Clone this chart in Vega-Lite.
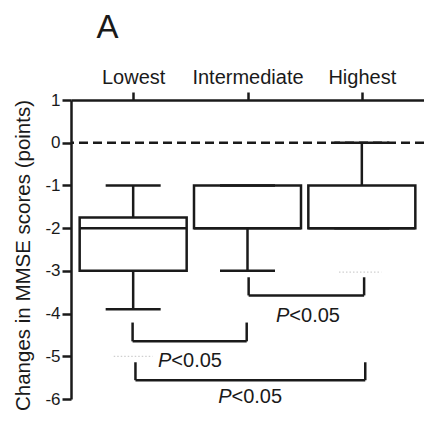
{
  "$schema": "https://vega.github.io/schema/vega-lite/v6.json",
  "width": 353,
  "height": 299,
  "autosize": {"type": "none"},
  "padding": {"left": 71, "top": 100, "right": 0, "bottom": 23},
  "background": "white",
  "config": {
    "view": {"stroke": null},
    "font": "Liberation Sans",
    "axis": {"grid": false, "domainColor": "#1a1a1a", "domainWidth": 2.5, "tickColor": "#1a1a1a", "tickWidth": 2.5, "labelFont": "Liberation Sans", "labelColor": "#1a1a1a", "titleFont": "Liberation Sans", "titleColor": "#1a1a1a", "titleFontWeight": "normal"},
    "axisTop": {"tickSize": 8, "labelFontSize": 20, "labelPadding": 9, "labelBaseline": "alphabetic"},
    "axisLeft": {"tickSize": 9, "labelFontSize": 17, "labelPadding": 2, "titleFontSize": 20.5},
    "axisRight": {"disable": true}
  },
  "datasets": {
    "boxes": [
      {"group": "Lowest", "pos": 1, "lo": -3.9, "q1": -3, "med": -2, "q3": -1.75, "hi": -1},
      {"group": "Intermediate", "pos": 2, "lo": -3, "q1": -2, "med": -2, "q3": -1, "hi": -1},
      {"group": "Highest", "pos": 3, "lo": -2, "q1": -2, "med": -2, "q3": -1, "hi": 0}
    ],
    "reference": [
      {"ref": 0}
    ],
    "brackets": [
      {"a": 2.01, "b": 3.02, "top": -3.15, "bar": -3.575, "split": 2.366, "labely": -4.19, "p": "P", "rest": "<0.05"},
      {"a": 0.995, "b": 1.993, "top": -4.21, "bar": -4.65, "split": 1.334, "labely": -5.24, "p": "P", "rest": "<0.05"},
      {"a": 1.02, "b": 3.03, "top": -5.14, "bar": -5.56, "split": 1.86, "labely": -6.09, "p": "P", "rest": "<0.05"}
    ],
    "ghosts": [
      {"g0": 2.8, "g1": 3.17, "gy": -3.03},
      {"g0": 0.83, "g1": 1.17, "gy": -5.0}
    ]
  },
  "layer": [
    {
      "data": {"name": "boxes"},
      "mark": {"type": "rule", "strokeWidth": 2.5, "color": "#1a1a1a"},
      "encoding": {
        "x": {"field": "pos", "type": "quantitative",
          "scale": {"domain": [0.5, 3.5], "nice": false, "zero": false},
          "axis": {"orient": "top", "title": "A", "values": [1, 2, 3],
            "labelExpr": "datum.value == 1 ? 'Lowest' : datum.value == 2 ? 'Intermediate' : 'Highest'",
            "titleFontSize": 33, "titleX": 36, "titleY": -63, "titleAlign": "center", "titleBaseline": "alphabetic"}
        },
        "y": {"field": "q3", "type": "quantitative",
          "scale": {"domain": [-6, 1], "nice": false, "zero": false},
          "axis": {"title": "Changes in MMSE scores (points)", "values": [-6, -5, -4, -3, -2, -1, 0, 1],
            "labelExpr": "datum.value < 0 ? '-' + abs(datum.value) : '' + datum.value",
            "titleAngle": -90, "titleAlign": "center", "titleBaseline": "alphabetic", "titleX": -42, "titleY": 155}
        },
        "y2": {"field": "hi"}
      }
    },
    {
      "data": {"name": "reference"},
      "mark": {"type": "rule", "strokeDash": [9, 5], "strokeWidth": 2.5, "color": "#1a1a1a"},
      "encoding": {
        "y": {"field": "ref", "type": "quantitative"}
      }
    },
    {
      "data": {"name": "boxes"},
      "mark": {"type": "rule", "strokeWidth": 2.5, "color": "#1a1a1a"},
      "encoding": {
        "x": {"field": "pos", "type": "quantitative"},
        "y": {"field": "lo", "type": "quantitative"},
        "y2": {"field": "q1"}
      }
    },
    {
      "data": {"name": "boxes"},
      "mark": {"type": "bar", "orient": "vertical", "width": 107, "fill": "white", "stroke": "#1a1a1a", "strokeWidth": 2.5},
      "encoding": {
        "x": {"field": "pos", "type": "quantitative"},
        "y": {"field": "q1", "type": "quantitative"},
        "y2": {"field": "q3"}
      }
    },
    {
      "data": {"name": "boxes"},
      "mark": {"type": "tick", "orient": "horizontal", "size": 107, "thickness": 2.5, "color": "#1a1a1a", "opacity": 1},
      "encoding": {
        "x": {"field": "pos", "type": "quantitative"},
        "y": {"field": "med", "type": "quantitative"}
      }
    },
    {
      "data": {"name": "boxes"},
      "mark": {"type": "tick", "orient": "horizontal", "size": 55, "thickness": 2.5, "color": "#1a1a1a", "opacity": 1},
      "encoding": {
        "x": {"field": "pos", "type": "quantitative"},
        "y": {"field": "hi", "type": "quantitative"}
      }
    },
    {
      "data": {"name": "boxes"},
      "mark": {"type": "tick", "orient": "horizontal", "size": 55, "thickness": 2.5, "color": "#1a1a1a", "opacity": 1},
      "encoding": {
        "x": {"field": "pos", "type": "quantitative"},
        "y": {"field": "lo", "type": "quantitative"}
      }
    },
    {
      "data": {"name": "ghosts"},
      "mark": {"type": "rule", "strokeWidth": 1.2, "strokeDash": [1.5, 2], "color": "#cfcfcf"},
      "encoding": {
        "x": {"field": "g0", "type": "quantitative"},
        "x2": {"field": "g1"},
        "y": {"field": "gy", "type": "quantitative"}
      }
    },
    {
      "data": {"name": "brackets"},
      "mark": {"type": "rule", "strokeWidth": 2.5, "color": "#1a1a1a"},
      "encoding": {
        "x": {"field": "a", "type": "quantitative"},
        "x2": {"field": "b"},
        "y": {"field": "bar", "type": "quantitative"}
      }
    },
    {
      "data": {"name": "brackets"},
      "mark": {"type": "rule", "strokeWidth": 2.5, "color": "#1a1a1a"},
      "encoding": {
        "x": {"field": "a", "type": "quantitative"},
        "y": {"field": "top", "type": "quantitative"},
        "y2": {"field": "bar"}
      }
    },
    {
      "data": {"name": "brackets"},
      "mark": {"type": "rule", "strokeWidth": 2.5, "color": "#1a1a1a"},
      "encoding": {
        "x": {"field": "b", "type": "quantitative"},
        "y": {"field": "top", "type": "quantitative"},
        "y2": {"field": "bar"}
      }
    },
    {
      "data": {"name": "brackets"},
      "mark": {"type": "text", "align": "right", "baseline": "alphabetic", "font": "Liberation Sans", "fontSize": 20, "fontStyle": "italic", "color": "#1a1a1a"},
      "encoding": {
        "x": {"field": "split", "type": "quantitative"},
        "y": {"field": "labely", "type": "quantitative"},
        "text": {"field": "p"}
      }
    },
    {
      "data": {"name": "brackets"},
      "mark": {"type": "text", "align": "left", "baseline": "alphabetic", "font": "Liberation Sans", "fontSize": 20, "color": "#1a1a1a"},
      "encoding": {
        "x": {"field": "split", "type": "quantitative"},
        "y": {"field": "labely", "type": "quantitative"},
        "text": {"field": "rest"}
      }
    }
  ]
}
